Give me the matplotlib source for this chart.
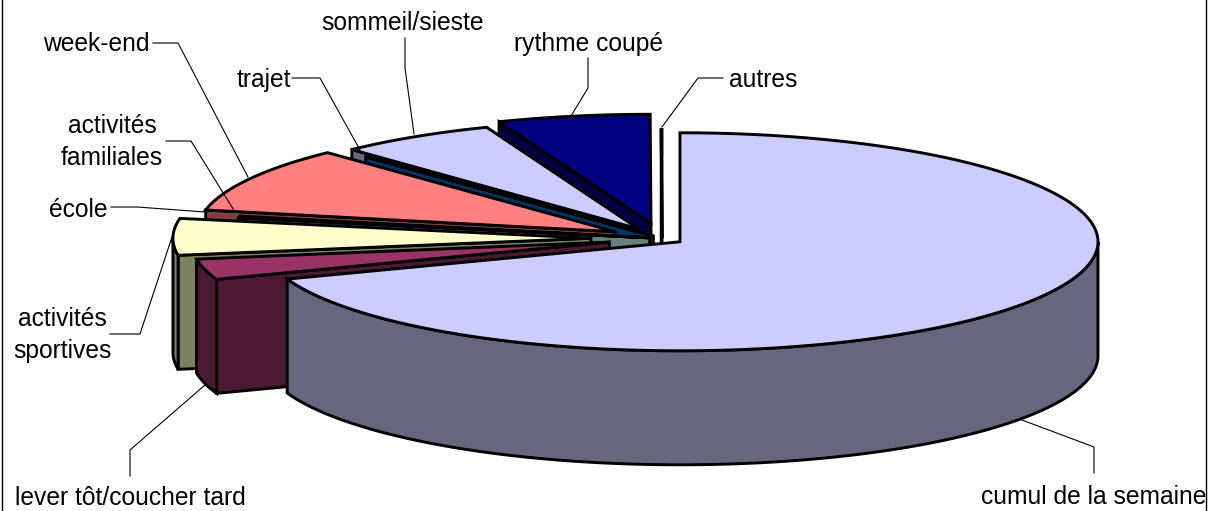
import numpy as np
from matplotlib import pyplot as plt
from matplotlib.patches import Polygon

# percent of answers, clockwise from 12 o'clock
categories = ['cumul de la semaine', 'lever tôt/coucher tard', 'activités\nsportives', 'école',
              'activités\nfamiliales', 'week-end', 'trajet', 'sommeil/sieste', 'rythme coupé', 'autres']
values = [69.44, 3.06, 5.42, 0.14, 0.14, 9.72, 0.05, 6.11, 5.89, 0.03]

colors = ['#CCCCFF', '#993366', '#FFFFCC', '#CCFFFF', '#660066', '#FF8080', '#0066CC', '#CCCCFF', '#000080', '#FF00FF']
explode = [0.0525, 0.13, 0.17, 0.03, 0.03, 0.128, 0.03, 0.105, 0.142, 0.0]

# pie geometry in pixels
cx = 662
cy = 238.5
rx = 418
ry = 109
depth = 114


def rim(a, t1, t2):
    t = np.radians(np.linspace(t1, t2, max(int(t2 - t1) * 2, 2)))
    return np.column_stack((a[0] + rx * np.sin(t), a[1] - ry * np.cos(t)))


def dark(c):
    r, g, b = int(c[1:3], 16), int(c[3:5], 16), int(c[5:7], 16)
    return '#%02x%02x%02x' % (r // 2, g // 2, b // 2)


def poly(pts, fc):
    ax.add_patch(Polygon(pts, closed=True, facecolor=fc, edgecolor='black', linewidth=2.1, joinstyle='miter'))


fig = plt.figure(figsize=(12.17, 5.11), dpi=100)
ax = fig.add_axes([0, 0, 1, 1])
ax.set_xlim(0, 1217)
ax.set_ylim(511, 0)
ax.axis('off')

edges = np.concatenate(([0], np.cumsum(values))) * 3.6
down = np.array([0, depth])

# back slices first, the big one goes last
for i in range(len(values) - 1, -1, -1):
    t1 = edges[i]
    t2 = edges[i + 1]
    mid = np.radians((t1 + t2) / 2)
    a = np.array([cx + explode[i] * rx * np.sin(mid), cy - explode[i] * ry * np.cos(mid)])
    side = dark(colors[i])
    # cut face looking at us
    if 180 <= t1 < 360:
        p = rim(a, t1, t1)[0]
        poly([a, p, p + down, a + down], side)
    # outer wall
    lo = max(t1, 90)
    hi = min(t2, 270)
    if hi > lo:
        r = rim(a, lo, hi)
        poly(np.vstack((r, (r + down)[::-1])), side)
    poly(np.vstack(([a], rim(a, t1, t2))), colors[i])

# frame, no line along the top
ax.plot([2, 2], [0, 511], color='black', lw=1.0)
ax.plot([1206, 1206], [0, 511], color='black', lw=1.0)

# leader lines
leaders = [
    ([1094, 1094, 1022], [473, 447, 420]),
    ([130, 130, 205], [476, 450, 385]),
    ([110, 140, 172], [334, 334, 237]),
    ([111, 137, 205], [207, 207, 212]),
    ([166, 191, 235], [141, 141, 212]),
    ([153, 178, 248], [43, 43, 177]),
    ([292, 320, 360], [78, 78, 150]),
    ([405, 405, 414], [38, 68, 134]),
    ([588, 588, 571], [58, 88, 116]),
    ([723, 698, 662], [78, 78, 127]),
]
for lx, ly in leaders:
    ax.plot(lx, ly, color='black', lw=0.8)

label_x = [1094, 130, 62, 78, 112, 96, 264, 403, 588, 763]
label_y = [497, 498, 335, 210, 142, 44, 80, 23, 44, 80]
for name, x, y in zip(categories, label_x, label_y):
    ax.text(x, y, name, ha='center', va='center', fontsize=17.7, family='Liberation Sans', linespacing=1.42)

fig.savefig('out.png', dpi=100)
